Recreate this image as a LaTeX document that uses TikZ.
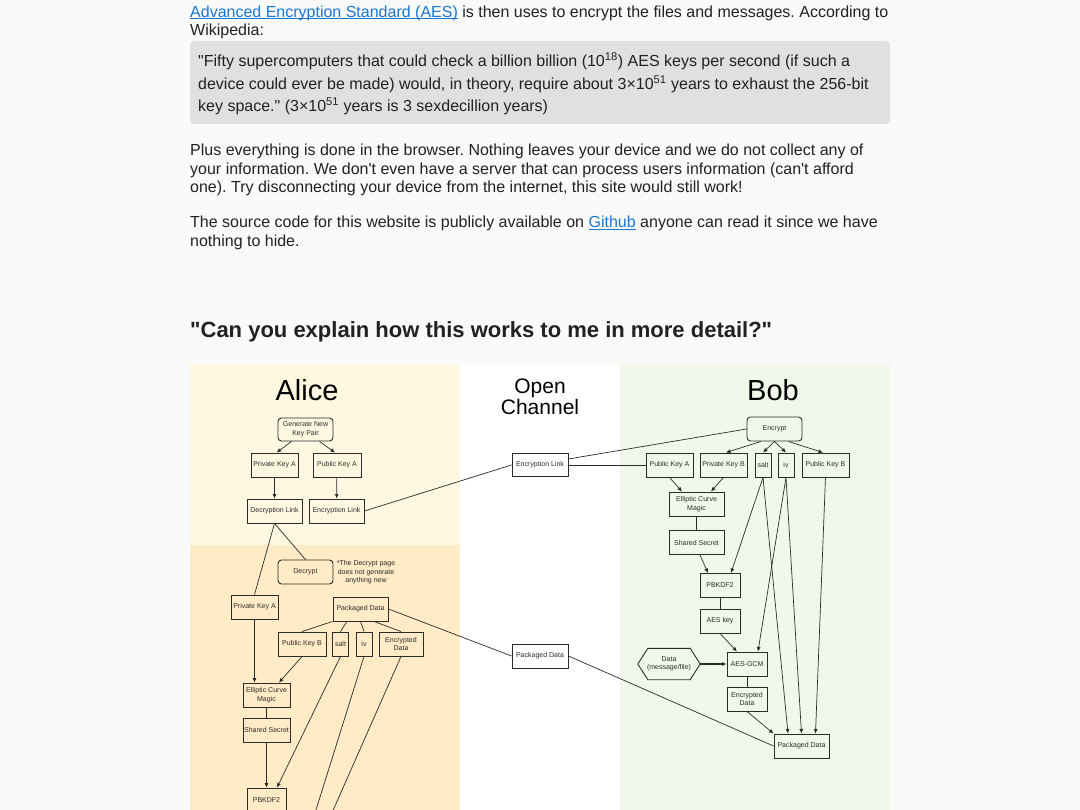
\documentclass[tikz,border=0pt]{standalone}
\usepackage{fontspec}
\setmainfont{Liberation Sans}
\newfontfamily\webfont{Liberation Sans}
\usetikzlibrary{arrows.meta, positioning}
\definecolor{pagegray}{HTML}{FAFAFA}
\definecolor{quotegray}{HTML}{E0E0E0}
\definecolor{textdark}{HTML}{212121}
\definecolor{linkblue}{HTML}{1976D2}
\definecolor{alicelight}{HTML}{FFF8E1}
\definecolor{alicedeep}{HTML}{FFEBC6}
\definecolor{bobgreen}{HTML}{F1F8E9}
\definecolor{boxline}{HTML}{2B2B2B}
\newcommand{\weblink}[1]{\textcolor{linkblue}{\setbox0=\hbox{#1}\rlap{\rule[-2pt]{\wd0}{1pt}}\box0}}
\frenchspacing

\begin{document}
\begin{tikzpicture}[x=1pt, y=-1pt,
        webline/.style={anchor=base west, inner sep=0pt, text=textdark, font=\webfont\fontsize{16}{19}\selectfont},
        heading/.style={anchor=base west, inner sep=0pt, text=textdark, font=\webfont\bfseries\fontsize{22}{26}\selectfont},
        paneltitle/.style={inner sep=0pt, text=black, font=\fontsize{29}{32}\selectfont},
        channeltitle/.style={inner sep=0pt, align=center, text=black, font=\fontsize{21}{18}\selectfont},
        keybox/.style={draw=boxline, line width=0.9pt, minimum height=24pt, inner sep=1pt, align=center,
                       text=boxline, font=\fontsize{7}{8.5}\selectfont},
        roundbox/.style={keybox, rounded corners=3.5pt},
        hexbox/.style={inner sep=0pt, align=center, text=boxline, font=\fontsize{7}{8.5}\selectfont},
        note/.style={align=center, inner sep=0pt, text=boxline, font=\fontsize{7}{8.5}\selectfont},
        flow/.style={draw=boxline, line width=0.7pt, -{Latex[length=4.5pt, width=4pt]}},
        link/.style={draw=boxline, line width=0.7pt}
    ]
        \clip (0,0) rectangle (1080,810);
        \fill[pagegray] (0,0) rectangle (1080,810);
        \fill[quotegray, rounded corners=4pt] (190,41) rectangle (890,124);
        \fill[alicelight] (190,364) rectangle (460,545);
        \fill[alicedeep] (190,545) rectangle (460,810);
        \fill[white] (460,364) rectangle (620,810);
        \fill[bobgreen] (620,364) rectangle (890,810);

        \node [webline] (intro1) at (190,17.5) {\weblink{Advanced Encryption Standard (AES)} is then uses to encrypt the files and messages. According to};
        \node [webline] (intro2) at (190,36) {Wikipedia:};
        \node [webline] (quote1) at (198,66.7) {\textquotedbl Fifty supercomputers that could check a billion billion (10\textsuperscript{18}) AES keys per second (if such a};
        \node [webline] (quote2) at (198,90) {device could ever be made) would, in theory, require about 3×10\textsuperscript{51} years to exhaust the 256-bit};
        \node [webline] (quote3) at (198,111.7) {key space.\textquotedbl{} (3×10\textsuperscript{51} years is 3 sexdecillion years)};
        \node [webline] (plus1) at (190,155.5) {Plus everything is done in the browser. Nothing leaves your device and we do not collect any of};
        \node [webline] (plus2) at (190,174.5) {your information. We don\textquotesingle t even have a server that can process users information (can\textquotesingle t afford};
        \node [webline] (plus3) at (190,193) {one). Try disconnecting your device from the internet, this site would still work!};
        \node [webline] (source1) at (190,228) {The source code for this website is publicly available on \weblink{Github} anyone can read it since we have};
        \node [webline] (source2) at (190,247) {nothing to hide.};
        \node [heading] (question) at (190,338) {\textquotedbl Can you explain how this works to me in more detail?\textquotedbl};

        \node [paneltitle]   (alicetitle)   at (307,390) {Alice};
        \node [channeltitle] (channeltitle) at (540,397) {Open\\Channel};
        \node [paneltitle]   (bobtitle)     at (773,390) {Bob};

        \node [roundbox, minimum width=55pt, minimum height=23pt] (agen) at (305.5,429.5) {Generate New\\Key Pair};
        \node [keybox, minimum width=47pt] (aprivA)   at (274.5,465) {Private Key A};
        \node [keybox, minimum width=48pt] (apubA)    at (337,465)   {Public Key A};
        \node [keybox, minimum width=55pt] (adeclink) at (274.5,511) {Decryption Link};
        \node [keybox, minimum width=55pt] (aenclink) at (336.5,511) {Encryption Link};
        \node [roundbox, minimum width=55pt] (adecrypt) at (305.5,572) {Decrypt};
        \node [note] (anote) at (366,572.5) {*The Decrypt page\\does not generate\\anything new};
        \node [keybox, minimum width=47pt] (aprivA2)  at (254.5,607) {Private Key A};
        \node [keybox, minimum width=55pt] (apack)    at (360.5,609) {Packaged Data};
        \node [keybox, minimum width=48pt] (apubB)    at (302,644)   {Public Key B};
        \node [keybox, minimum width=16pt] (asalt)    at (340.5,644) {salt};
        \node [keybox, minimum width=16pt] (aiv)      at (364,644)   {iv};
        \node [keybox, minimum width=44pt] (aenc)     at (401,644)   {Encrypted\\Data};
        \node [keybox, minimum width=47pt] (aecm)     at (266.5,695) {Elliptic Curve\\Magic};
        \node [keybox, minimum width=47pt] (ashared)  at (266.5,730) {Shared Secret};
        \node [keybox, minimum width=39pt] (apbkdf)   at (266.5,800) {PBKDF2};
        \coordinate (aivexit) at (309.7,830);
        \coordinate (aencexit) at (324.4,830);

        \node [keybox, minimum width=56pt, minimum height=23pt] (oenclink) at (540,465) {Encryption Link};
        \node [keybox, minimum width=56pt] (opack) at (540,656) {Packaged Data};

        \node [roundbox, minimum width=55pt] (bencrypt) at (774.5,429) {Encrypt};
        \node [keybox, minimum width=47pt] (bpubA)    at (669.5,465) {Public Key A};
        \node [keybox, minimum width=47pt] (bprivB)   at (723.5,465) {Private Key B};
        \node [keybox, minimum width=16pt] (bsalt)    at (763,465)   {salt};
        \node [keybox, minimum width=16pt] (biv)      at (786,465)   {iv};
        \node [keybox, minimum width=47pt] (bpubB)    at (825.5,465) {Public Key B};
        \node [keybox, minimum width=55pt] (becm)     at (696.5,504) {Elliptic Curve\\Magic};
        \node [keybox, minimum width=55pt] (bshared)  at (696.5,542.5) {Shared Secret};
        \node [keybox, minimum width=40pt] (bpbkdf)   at (720,585.5) {PBKDF2};
        \node [keybox, minimum width=40pt] (baeskey)  at (720,621)   {AES key};
        \node [hexbox, minimum width=62pt, minimum height=31pt] (bdata) at (669,664) {Data\\(message/file)};
        \draw [boxline, line width=0.9pt] (bdata.west) -- ([xshift=10pt]bdata.north west) -- ([xshift=-10pt]bdata.north east)
            -- (bdata.east) -- ([xshift=-10pt]bdata.south east) -- ([xshift=10pt]bdata.south west) -- cycle;
        \node [keybox, minimum width=40pt] (baesgcm)  at (747,664)   {AES-GCM};
        \node [keybox, minimum width=40pt] (benc)     at (747,699)   {Encrypted\\Data};
        \node [keybox, minimum width=55pt] (bpack)    at (801.5,746) {Packaged Data};

        \path [flow] ([xshift=-14pt]agen.south) -- ([xshift=2pt]aprivA.north);
        \path [flow] ([xshift=14pt]agen.south)  -- ([xshift=-2pt]apubA.north);
        \path [flow] (aprivA) -- (adeclink);
        \path [flow] (apubA)  -- (aenclink);
        \path [link] (aenclink.east)  -- (oenclink.west);
        \path [link] (adeclink.south) -- (aprivA2.north);
        \path [link] (adeclink.south) -- (adecrypt.north);
        \path [link] (apack.south west) -- (apubB.north);
        \path [link] ([xshift=-13.5pt]apack.south) -- (asalt.north);
        \path [link] (apack.south) -- (aiv.north);
        \path [link] ([xshift=13.5pt]apack.south) -- (aenc.north);
        \path [flow] (aprivA2.south) -- (aprivA2.south |- aecm.north);
        \path [flow] (apubB.south) -- ([xshift=12.5pt]aecm.north);
        \path [link] (aecm) -- (ashared);
        \path [flow] (ashared) -- (apbkdf);
        \path [flow] (asalt.south) -- ([xshift=10.5pt]apbkdf.north);
        \path [link] (aiv.south) -- (aivexit);
        \path [link] (aenc.south) -- (aencexit);
        \path [link] (apack.east) -- (opack.west);

        \path [link] ([yshift=6pt]oenclink.east) -- (bencrypt.west);
        \path [link] (oenclink.east) -- (bpubA.west);
        \path [link] (opack.east) -- (bpack.west);

        \path [flow] ([xshift=-13.5pt]bencrypt.south) -- ([xshift=2.5pt]bprivB.north);
        \path [flow] (bencrypt.south) -- (bsalt.north);
        \path [flow] (bencrypt.south) -- (biv.north);
        \path [flow] ([xshift=14pt]bencrypt.south) -- ([xshift=-2.5pt]bpubB.north);
        \path [flow] (bpubA.south)  -- ([xshift=-14.5pt]becm.north);
        \path [flow] (bprivB.south) -- ([xshift=14.5pt]becm.north);
        \path [link] (becm) -- (bshared);
        \path [flow] ([xshift=3.5pt]bshared.south) -- ([xshift=-12pt]bpbkdf.north);
        \path [flow] (bsalt.south) -- ([xshift=11pt]bpbkdf.north);
        \path [flow] (bsalt.south) -- ([xshift=-13.5pt]bpack.north);
        \path [flow] (biv.south) -- ([xshift=11pt]baesgcm.north);
        \path [flow] (biv.south) -- (bpack.north);
        \path [flow] (bpubB.south) -- ([xshift=14pt]bpack.north);
        \path [link] (bpbkdf) -- (baeskey);
        \path [flow] (baeskey.south) -- ([xshift=-10pt]baesgcm.north);
        \path [flow, line width=1.2pt] (bdata.east) -- (baesgcm.west);
        \path [link] (baesgcm) -- (benc);
        \path [flow] (benc.south) -- (bpack.north west);
    \end{tikzpicture}
\end{document}
